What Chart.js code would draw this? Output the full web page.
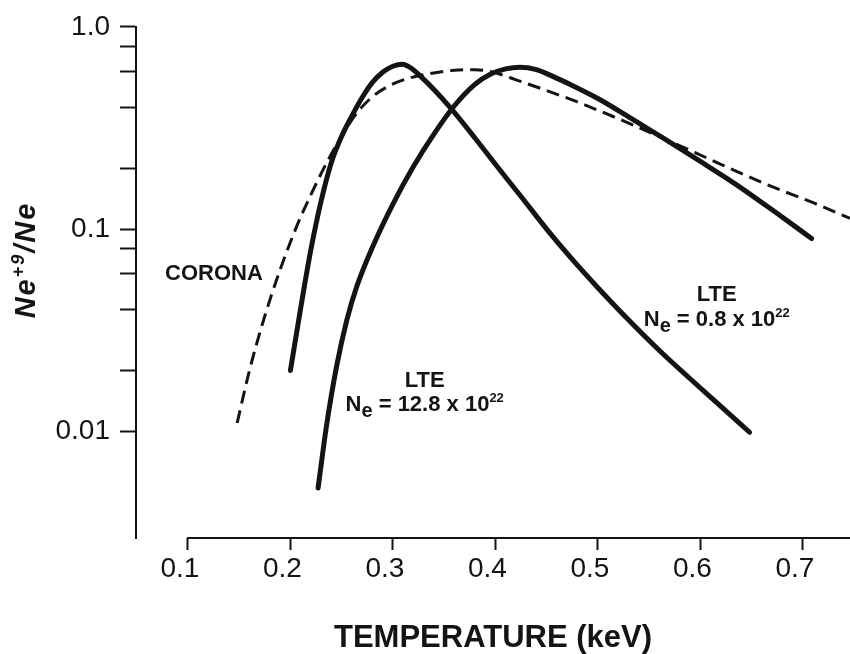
<!DOCTYPE html>
<html>
<head>
<meta charset="utf-8">
<script src="https://cdn.jsdelivr.net/npm/chart.js@4.4.1/dist/chart.umd.min.js"></script>
<style>
  html, body { margin: 0; padding: 0; background: #ffffff; overflow: hidden; }
  #wrap { width: 850px; height: 654px; position: relative; }
</style>
</head>
<body>
<div id="wrap"><canvas id="c" width="850" height="654"></canvas></div>
<script>
// ---- data ----
const coronaT    = [0.148, 0.160, 0.175, 0.190, 0.205, 0.220, 0.235, 0.250, 0.262, 0.278, 0.295, 0.315, 0.335, 0.360, 0.380, 0.400, 0.420, 0.450, 0.480, 0.520, 0.570, 0.620, 0.670, 0.710, 0.746];
const coronaFrac = [0.0110, 0.0200, 0.0372, 0.0631, 0.100, 0.148, 0.211, 0.288, 0.359, 0.442, 0.507, 0.556, 0.586, 0.610, 0.614, 0.592, 0.547, 0.484, 0.425, 0.351, 0.272, 0.209, 0.162, 0.135, 0.113];

const lte128T    = [0.200, 0.210, 0.220, 0.230, 0.240, 0.250, 0.260, 0.270, 0.280, 0.290, 0.300, 0.309, 0.318, 0.326, 0.340, 0.356, 0.380, 0.400, 0.425, 0.450, 0.475, 0.500, 0.530, 0.560, 0.590, 0.620, 0.648];
const lte128Frac = [0.0200, 0.0407, 0.0794, 0.138, 0.214, 0.288, 0.363, 0.447, 0.531, 0.596, 0.638, 0.653, 0.624, 0.575, 0.490, 0.398, 0.282, 0.209, 0.145, 0.100, 0.0708, 0.0513, 0.0355, 0.0251, 0.0182, 0.0133, 0.0099];

const lte08T     = [0.227, 0.235, 0.245, 0.255, 0.265, 0.280, 0.300, 0.320, 0.340, 0.360, 0.380, 0.395, 0.410, 0.424, 0.440, 0.456, 0.475, 0.500, 0.530, 0.570, 0.600, 0.635, 0.670, 0.7085];
const lte08Frac  = [0.00525, 0.0105, 0.0209, 0.0355, 0.0525, 0.0813, 0.133, 0.204, 0.295, 0.407, 0.519, 0.582, 0.619, 0.631, 0.614, 0.569, 0.513, 0.442, 0.359, 0.269, 0.216, 0.166, 0.1245, 0.0899];

const xTickValues = [0.1, 0.2, 0.3, 0.4, 0.5, 0.6, 0.7];
const xTickLabels = ['0.1', '0.2', '0.3', '0.4', '0.5', '0.6', '0.7'];
const yTickValues = [0.01, 0.02, 0.04, 0.06, 0.08, 0.1, 0.2, 0.4, 0.6, 0.8, 1.0];
const yTickLabels = ['0.01', '', '', '', '', '0.1', '', '', '', '', '1.0'];

const xTitle = 'TEMPERATURE (keV)';
const yTitleParts = [['Ne'], ['+9', 'sup'], ['/Ne']];

const noteCorona = 'CORONA';
const noteLte = 'LTE';
const noteLowDensity = [['N'], ['e', 'sub'], [' = 0.8 x 10'], ['22', 'sup']];
const noteHighDensity = [['N'], ['e', 'sub'], [' = 12.8 x 10'], ['22', 'sup']];

// ---- styling / placement (kept apart from the data) ----
const INK = '#141414';
const toPts = (xs, ys) => xs.map((v, i) => ({ x: v, y: ys[i] }));

const notePlacement = [
  { parts: [[noteCorona]],   x: 0.0776, y: 0.0560, align: 'left' },
  { parts: [[noteLte]],      x: 0.616,  y: 0.0440, align: 'center' },
  { parts: noteLowDensity,   x: 0.616,  y: 0.0332, align: 'center' },
  { parts: [[noteLte]],      x: 0.331,  y: 0.0166, align: 'center' },
  { parts: noteHighDensity,  x: 0.331,  y: 0.0126, align: 'center' }
];

function drawRich(ctx, parts, x, y, align, f) {
  const fontOf = (kind) => kind === 'sup' ? f.sup : (kind === 'sub' ? f.sub : f.main);
  const dyOf = (kind) => kind === 'sup' ? f.supDy : (kind === 'sub' ? f.subDy : 0);
  let total = 0;
  const widths = parts.map(p => { ctx.font = fontOf(p[1]); const w = ctx.measureText(p[0]).width; total += w; return w; });
  let cx = align === 'center' ? x - total / 2 : x;
  ctx.textAlign = 'left';
  ctx.textBaseline = 'alphabetic';
  parts.forEach((p, i) => {
    ctx.font = fontOf(p[1]);
    ctx.fillText(p[0], cx, y + dyOf(p[1]));
    cx += widths[i];
  });
}

const extras = {
  id: 'extras',
  afterDraw(chart) {
    const { ctx, chartArea: a, scales: { x, y } } = chart;
    ctx.save();
    // detached horizontal axis line starting at the first tick
    ctx.strokeStyle = INK;
    ctx.lineWidth = 2;
    ctx.beginPath();
    ctx.moveTo(x.getPixelForValue(xTickValues[0]) - 1, a.bottom);
    ctx.lineTo(a.right, a.bottom);
    ctx.stroke();

    ctx.fillStyle = INK;
    const noteFont = {
      main: 'bold 22px "Liberation Sans", Arial, sans-serif',
      sub: 'bold 20px "Liberation Sans", Arial, sans-serif',
      sup: 'bold 13px "Liberation Sans", Arial, sans-serif',
      subDy: 6, supDy: -9
    };
    notePlacement.forEach(n => {
      drawRich(ctx, n.parts, x.getPixelForValue(n.x), y.getPixelForValue(n.y), n.align, noteFont);
    });

    // rotated y-axis title with superscript
    ctx.translate(25, 260);
    ctx.rotate(-Math.PI / 2);
    try { ctx.letterSpacing = '2px'; } catch (e) {}
    drawRich(ctx, yTitleParts, 0, 10, 'center', {
      main: 'italic bold 29px "Liberation Sans", Arial, sans-serif',
      sup: 'italic bold 18px "Liberation Sans", Arial, sans-serif',
      sub: 'italic bold 18px "Liberation Sans", Arial, sans-serif',
      supDy: -11, subDy: 6
    });
    ctx.restore();
  }
};

const tickFont = { family: '"Liberation Sans Narrow", "Liberation Sans", sans-serif', size: 28, weight: 'normal' };

new Chart(document.getElementById('c'), {
  type: 'line',
  data: {
    datasets: [
      {
        label: 'CORONA',
        data: toPts(coronaT, coronaFrac),
        borderColor: INK, borderWidth: 3, borderDash: [13, 7],
        pointRadius: 0, fill: false, cubicInterpolationMode: 'monotone'
      },
      {
        label: 'LTE Ne = 12.8 x 10^22',
        data: toPts(lte128T, lte128Frac),
        borderColor: INK, borderWidth: 5, borderCapStyle: 'round', borderJoinStyle: 'round',
        pointRadius: 0, fill: false, cubicInterpolationMode: 'monotone'
      },
      {
        label: 'LTE Ne = 0.8 x 10^22',
        data: toPts(lte08T, lte08Frac),
        borderColor: INK, borderWidth: 5, borderCapStyle: 'round', borderJoinStyle: 'round',
        pointRadius: 0, fill: false, cubicInterpolationMode: 'monotone'
      }
    ]
  },
  options: {
    responsive: false,
    animation: false,
    events: [],
    layout: { padding: { top: 24, right: 0, bottom: 0, left: 0 } },
    plugins: { legend: { display: false }, tooltip: { enabled: false }, title: { display: false } },
    scales: {
      x: {
        type: 'linear',
        min: 0.0493,
        max: 0.746,
        afterBuildTicks: s => { s.ticks = xTickValues.map(v => ({ value: v })); },
        afterFit: s => { s.height = 116; },
        ticks: {
          autoSkip: false, maxRotation: 0, color: INK, font: tickFont, padding: 2, labelOffset: -8,
          callback: (v, i) => xTickLabels[i]
        },
        grid: { drawOnChartArea: false, drawTicks: true, tickLength: 12, tickWidth: 2, tickColor: INK, color: INK },
        border: { display: false },
        title: {
          display: true, text: xTitle, color: INK,
          font: { family: '"Liberation Sans", Arial, sans-serif', size: 31, weight: 'bold', lineHeight: 1 },
          padding: { top: 0, bottom: 0 }
        }
      },
      y: {
        type: 'logarithmic',
        min: 0.00297,
        max: 1.0,
        afterBuildTicks: s => { s.ticks = yTickValues.map(v => ({ value: v })); },
        afterFit: s => { s.width = 136; },
        ticks: {
          autoSkip: false, color: INK, font: tickFont, padding: 10,
          callback: (v, i) => yTickLabels[i]
        },
        grid: { drawOnChartArea: false, drawTicks: true, tickLength: 16, tickWidth: 2, tickColor: INK, color: INK },
        border: { display: true, color: INK, width: 2 }
      }
    }
  },
  plugins: [extras]
});
</script>
</body>
</html>
